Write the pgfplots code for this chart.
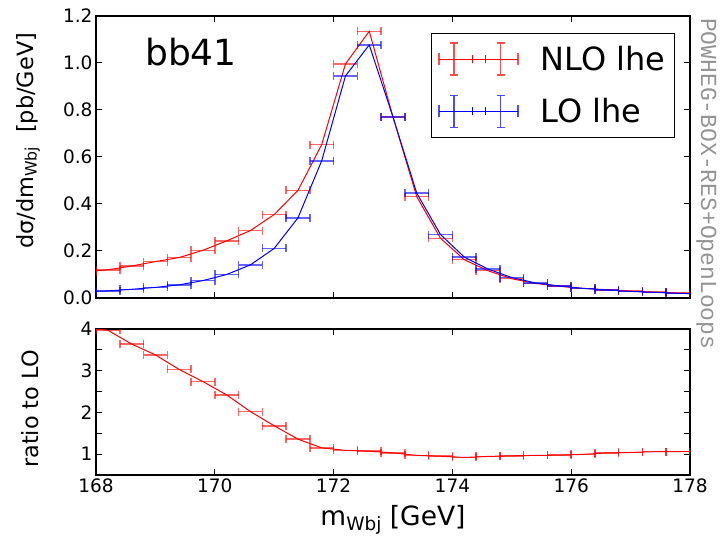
\documentclass[border=0pt]{standalone}
\usepackage{fontspec}
\setmainfont{DejaVu Sans}
\newfontfamily\sidefont{Liberation Mono}
\usepackage{pgfplots}
\usepackage{pgfplotstable}
\pgfplotsset{compat=1.18}

\pgfplotstableread{
x     nlo    lo     ratio
167.8 0.112  0.027  4.03
168.2 0.120  0.030  3.97
168.6 0.136  0.037  3.64
169.0 0.155  0.045  3.38
169.4 0.172  0.056  3.03
169.8 0.203  0.074  2.74
170.2 0.243  0.100  2.42
170.6 0.287  0.141  2.02
171.0 0.355  0.211  1.68
171.4 0.458  0.341  1.36
171.8 0.653  0.584  1.15
172.2 0.996  0.945  1.09
172.6 1.135  1.077  1.07
173.0 0.770  0.770  1.03
173.4 0.431  0.446  0.97
173.8 0.254  0.270  0.95
174.2 0.163  0.174  0.92
174.6 0.116  0.123  0.945
175.0 0.082  0.087  0.96
175.4 0.062  0.064  0.97
175.8 0.050  0.051  0.975
176.2 0.041  0.041  0.995
176.6 0.035  0.034  1.03
177.0 0.029  0.028  1.04
177.4 0.025  0.024  1.06
177.8 0.021  0.020  1.06
178.2 0.018  0.017  1.06
}\data

\newcommand{\sub}[2]{\raisebox{-0.3ex}{\fontsize{#2}{#2}\selectfont #1}}

\begin{document}
\begin{tikzpicture}
\useasboundingbox (0pt,0pt) rectangle (728pt,540pt);
\pgfplotsset{
  common/.style={scale only axis, width=594pt, xmin=168, xmax=178,
    xtick={168,170,172,174,176,178}, tick align=inside, major tick length=6pt,
    axis line style={line width=1.2pt}, every tick/.style={black, line width=1pt},
    tick label style={font=\fontsize{18.5}{20}\selectfont},
    /pgf/number format/assume math mode=true},
  err/.style={error bars/x dir=both, error bars/x fixed=0.2,
    error bars/error mark=|,
    error bars/error bar style={line width=1.5pt, opacity=0.6},
    error bars/error mark options={line width=1.5pt, mark size=4pt, opacity=0.6}}
}
\begin{axis}[common, at={(96pt,242pt)}, anchor=south west, height=282pt,
  ymin=0, ymax=1.2, ytick={0,0.2,0.4,0.6,0.8,1.0,1.2}, xticklabels={},
  yticklabel style={/pgf/number format/.cd, fixed, fixed zerofill, precision=1},
  ylabel={dσ/dm\sub{Wbj}{15.7}\ \ [pb/GeV]},
  ylabel style={font=\fontsize{22.4}{24}\selectfont, at={(axis description cs:-0.1145,0.557)}, anchor=center},
  legend style={at={(1,1)}, xshift=-15pt, yshift=-17pt, anchor=north east, draw=black, line width=1pt,
    font=\fontsize{32}{36}\selectfont, inner xsep=7pt, inner ysep=9pt, row sep=19pt,
    /tikz/column 1/.style={column sep=20pt}},
  legend cell align=left]
\addlegendimage{legend image code/.code={
  \draw[red, line width=1pt] (0pt,0pt) -- (79pt,0pt);
  \draw[red, line width=1.3pt, opacity=0.7] (0pt,-6pt)--(0pt,6pt) (79pt,-6pt)--(79pt,6pt)
     (15pt,-16pt)--(15pt,16pt) (11pt,16pt)--(19pt,16pt) (11pt,-16pt)--(19pt,-16pt)
     (61.5pt,-16pt)--(61.5pt,16pt) (57.5pt,16pt)--(65.5pt,16pt) (57.5pt,-16pt)--(65.5pt,-16pt);
  \draw[red, line width=1pt] (33.5pt,-4pt)--(33.5pt,4pt) (46.5pt,-4pt)--(46.5pt,4pt);
}}
\addlegendentry{NLO lhe}
\addlegendimage{legend image code/.code={
  \draw[blue, line width=1pt] (0pt,0pt) -- (79pt,0pt);
  \draw[blue, line width=1.3pt, opacity=0.7] (0pt,-6pt)--(0pt,6pt) (79pt,-6pt)--(79pt,6pt)
     (15pt,-16pt)--(15pt,16pt) (11pt,16pt)--(19pt,16pt) (11pt,-16pt)--(19pt,-16pt)
     (61.5pt,-16pt)--(61.5pt,16pt) (57.5pt,16pt)--(65.5pt,16pt) (57.5pt,-16pt)--(65.5pt,-16pt);
  \draw[blue, line width=1pt] (33.5pt,-4pt)--(33.5pt,4pt) (46.5pt,-4pt)--(46.5pt,4pt);
}}
\addlegendentry{LO lhe}
\addplot[red, line width=1pt, mark=none, err, forget plot] table[x=x, y=nlo] {\data};
\addplot[blue, line width=1pt, mark=none, err, forget plot] table[x=x, y=lo] {\data};
\node[anchor=base west, font=\fontsize{36}{40}\selectfont] at (rel axis cs:0.077,0.826) {bb41};
\end{axis}
\begin{axis}[common, at={(96pt,65pt)}, anchor=south west, height=146pt,
  ymin=0.5, ymax=4, ytick={0.5,1,1.5,2,2.5,3,3.5,4}, yticklabels={,1,,2,,3,,4},
  xlabel={m\sub{Wbj}{18.5}\ [GeV]},
  xlabel style={font=\fontsize{26.5}{28}\selectfont, at={(axis description cs:0.5,-0.308)}, anchor=center},
  ylabel={ratio to LO},
  ylabel style={font=\fontsize{22.4}{24}\selectfont, at={(axis description cs:-0.111,0.452)}, anchor=center}]
\addplot[red, line width=1pt, mark=none, err] table[x=x, y=ratio] {\data};
\end{axis}
\node[rotate=-90, anchor=base west, text=black!42, font=\sidefont\fontsize{23}{24}\selectfont, inner sep=0pt] at (701pt,522pt) {POWHEG-BOX-RES+OpenLoops};
\end{tikzpicture}
\end{document}
